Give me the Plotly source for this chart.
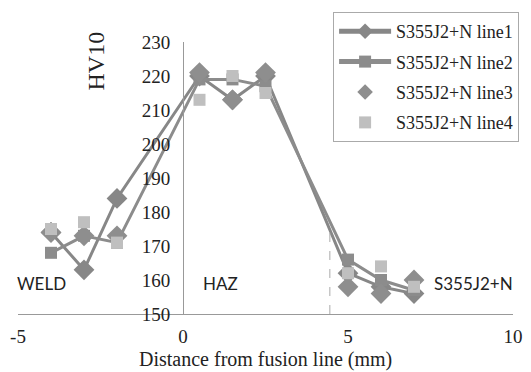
import plotly.graph_objects as go

distance = [-4, -3, -2, 0.5, 1.5, 2.5, 5, 6, 7]
line1 = [174, 163, 184, 220, 213, 220, 162, 158, 156]
line2 = [168, 173, 171, 219, 219, 217, 166, 160, 157]
line3 = [174, 173, 173, 221, 213, 221, 158, 156, 160]
line4 = [175, 177, 171, 213, 220, 215, 162, 164, 158]
names = ["S355J2+N line1", "S355J2+N line2", "S355J2+N line3", "S355J2+N line4"]
x_ticks = [-5, 0, 5, 10]
x_tick_text = ["-5", "0", "5", "10"]
y_ticks = [150, 160, 170, 180, 190, 200, 210, 220, 230]
zone_labels = ["WELD", "HAZ", "S355J2+N"]
zone_label_x = [-4.3, 1.15, 8.8]
zone_label_y = 159
haz_boundary = 4.45
boundary_top = 175

serif = "Liberation Serif"
sans = "Lato"

L, R = 18, 15
W = 531 - L - R

fig = go.Figure()
fig.add_trace(go.Scatter(x=distance, y=line1, name=names[0], mode="lines+markers",
                         line=dict(color="#878787", width=3),
                         marker=dict(symbol="diamond", size=16, color="#878787"),
                         legendgroup="a"))
fig.add_trace(go.Scatter(x=distance, y=line2, name=names[1], mode="lines+markers",
                         line=dict(color="#8c8c8c", width=3),
                         marker=dict(symbol="square", size=12, color="#8c8c8c"),
                         legendgroup="b"))
fig.add_trace(go.Scatter(x=distance, y=line3, name=names[2], mode="markers",
                         marker=dict(symbol="diamond", size=16, color="#8e8e8e"),
                         legendgroup="c"))
fig.add_trace(go.Scatter(x=distance, y=line4, name=names[3], mode="markers",
                         marker=dict(symbol="square", size=12, color="#bfbfbf"),
                         legendgroup="d"))

for t, xx in zip(zone_labels, zone_label_x):
    fig.add_annotation(x=xx, y=zone_label_y, text=t, showarrow=False,
                       font=dict(family=sans, size=17, color="#222"),
                       xref="x", yref="y")

fig.add_shape(type="line", x0=haz_boundary, x1=haz_boundary, y0=150, y1=boundary_top,
              xref="x", yref="y", line=dict(color="#aaaaaa", width=1, dash="dash"))

fig.add_annotation(xref="paper", yref="paper", x=(96 - L) / W, y=(314 - 61) / 272,
                   xanchor="center", yanchor="middle",
                   text="HV10", textangle=-90, showarrow=False,
                   font=dict(family=serif, size=24, color="#222"))

fig.add_annotation(xref="paper", yref="paper", x=(267 - L) / W, y=(314 - 359) / 272,
                   xanchor="center", yanchor="middle",
                   text="Distance from fusion line (mm)", showarrow=False,
                   font=dict(family=serif, size=20, color="#222"))

fig.update_layout(
    width=531, height=372,
    margin=dict(l=L, r=R, t=42, b=58),
    plot_bgcolor="white", paper_bgcolor="white",
    showlegend=True,
    legend=dict(x=(335 - L) / W, y=(314 - 12) / 272, xanchor="left", yanchor="top",
                bgcolor="white", bordercolor="#aaaaaa", borderwidth=1,
                font=dict(family=serif, size=18, color="#222"),
                itemsizing="constant", itemwidth=52,
                traceorder="grouped", tracegroupgap=4),
    xaxis=dict(range=[-5, 10], tickvals=x_ticks, ticktext=x_tick_text,
               showgrid=False, zeroline=False, automargin=False,
               showline=True, linecolor="#999999", linewidth=1,
               tickfont=dict(family=serif, size=19, color="#222"),
               ticks="", ticklabelstandoff=5),
    yaxis=dict(range=[150, 230], tickvals=y_ticks, showgrid=False, zeroline=False,
               showline=True, linecolor="#999999", linewidth=1, automargin=False,
               anchor="free", position=1 / 3,
               tickfont=dict(family=serif, size=19, color="#222"),
               ticks="", ticklabelstandoff=9),
)

fig.write_html("out.html")
